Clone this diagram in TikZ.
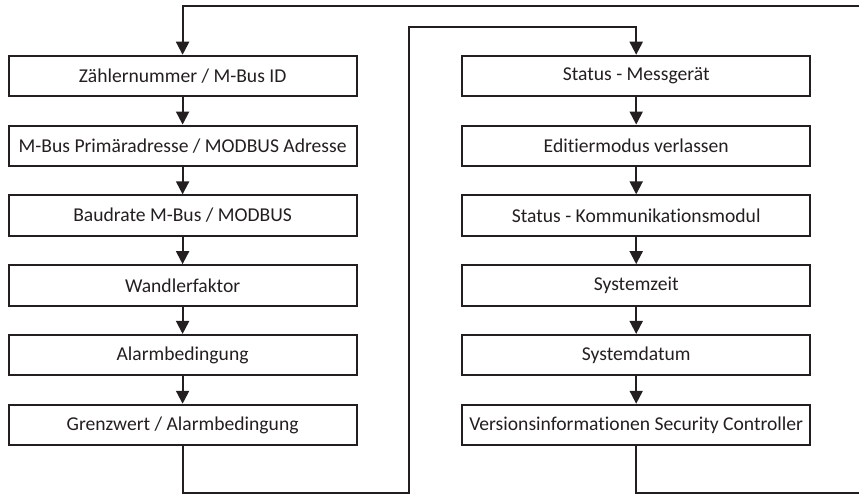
\documentclass[tikz,border=0pt]{standalone}
\usepackage{fontspec}
\setmainfont{Carlito}[Ligatures=NoCommon]
\usetikzlibrary{arrows.meta}
\definecolor{ink}{HTML}{231F20}
\begin{document}
\begin{tikzpicture}[x=1pt,y=-1pt,
 box/.style={draw=ink,line width=2pt,minimum width=348pt,minimum height=40.5pt,inner sep=0pt,font=\fontsize{19.6}{22}\selectfont,text=ink},
 conn/.style={draw=ink,line width=2pt},
 arr/.style={conn,-{Triangle[length=13pt,width=13pt]}}]
\useasboundingbox (0,0) rectangle (859,494);
\clip (0,0) rectangle (859,494);
\foreach \n/\t [count=\i from 0] in {1/{Zählernummer / M-Bus ID},2/{M-Bus Primäradresse / MODBUS Adresse},3/{Baudrate M-Bus / MODBUS},4/{Wandlerfaktor},5/{Alarmbedingung},6/{Grenzwert / Alarmbedingung}}
  \node[box] (L\n) at (182.6,{76+69.8*\i}) {\t};
\foreach \n/\t [count=\i from 0] in {1/{Status - Messgerät},2/{Editiermodus verlassen},3/{Status - Kommunikationsmodul},4/{Systemzeit},5/{Systemdatum},6/{Versionsinformationen Security Controller}}
  \node[box] (R\n) at (636.2,{76+69.8*\i}) {\t};
\foreach \a/\b in {1/2,2/3,3/4,4/5,5/6}{
  \draw[arr] (L\a.south) -- (L\b.north);
  \draw[arr] (R\a.south) -- (R\b.north);
}
\coordinate (a1) at (409.3,492.7);
\coordinate (a2) at (409.3,26.7);
\draw[arr] (L6.south) |- (a1) -- (a2) -| (R1.north);
\coordinate (b1) at (862,492.7);
\coordinate (b2) at (862,5.7);
\draw[arr] (R6.south) |- (b1) -- (b2) -| (L1.north);
\end{tikzpicture}
\end{document}
